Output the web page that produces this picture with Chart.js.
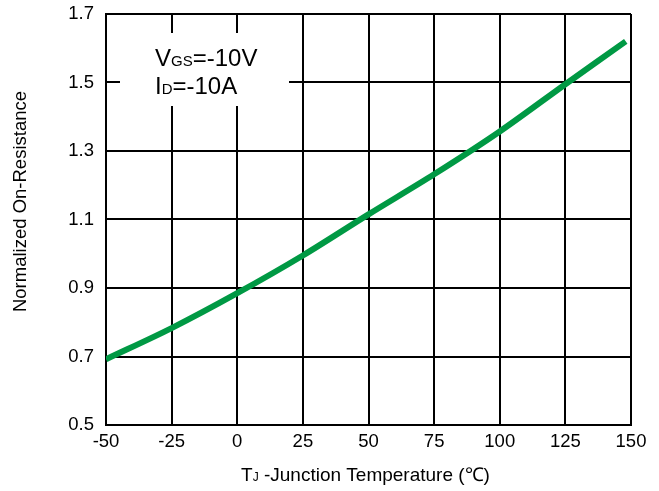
<!DOCTYPE html>
<html><head><meta charset="utf-8">
<script src="https://cdn.jsdelivr.net/npm/chart.js@4/dist/chart.umd.min.js"></script>
<style>html,body{margin:0;padding:0;background:#fff}#wrap{width:659px;height:491px}</style>
</head><body><div id="wrap"><canvas id="c" width="659" height="491"></canvas></div>
<script>
// Data
const temperatures = [-50, -25, 0, 25, 50, 75, 100, 125, 148];
const normalizedRds = [0.692, 0.783, 0.885, 0.995, 1.115, 1.232, 1.357, 1.495, 1.62];
const xTicks = [-50, -25, 0, 25, 50, 75, 100, 125, 150];
const xTickLabels = ['-50', '-25', '0', '25', '50', '75', '100', '125', '150'];
const yTicks = [0.5, 0.7, 0.9, 1.1, 1.3, 1.5, 1.7];
const yTickLabels = ['0.5', '0.7', '0.9', '1.1', '1.3', '1.5', '1.7'];
const annotationLines = [
  [{t: 'V', sub: false}, {t: 'GS', sub: true}, {t: '=-10V', sub: false}],
  [{t: 'I', sub: false}, {t: 'D', sub: true}, {t: '=-10A', sub: false}]
];
const xTitleParts = [{t: 'T', sub: false}, {t: 'J', sub: true}, {t: ' -Junction Temperature (\u2103)', sub: false}];
const yTitle = 'Normalized On-Resistance';

const FONT = '"Liberation Sans", Arial, sans-serif';

function drawParts(ctx, parts, x, y, size, subSize, align) {
  const w = parts.map(p => { ctx.font = (p.sub ? subSize : size) + 'px ' + FONT; return ctx.measureText(p.t).width; });
  const total = w.reduce((a, b) => a + b, 0);
  let cx = align === 'center' ? x - total / 2 : x;
  parts.forEach((p, i) => {
    ctx.font = (p.sub ? subSize : size) + 'px ' + FONT;
    ctx.fillText(p.t, cx, y);
    cx += w[i];
  });
}

const decor = {
  id: 'decor',
  beforeDatasetsDraw(chart) {
    const {ctx, chartArea: a} = chart;
    ctx.save();
    ctx.fillStyle = '#fff';
    ctx.fillRect(a.left + 14, a.top + 19, 169, 73);
    ctx.fillStyle = '#000';
    ctx.textBaseline = 'alphabetic';
    ctx.textAlign = 'left';
    drawParts(ctx, annotationLines[0], a.left + 49, a.top + 52, 24, 15, 'left');
    drawParts(ctx, annotationLines[1], a.left + 49, a.top + 80, 24, 15, 'left');
    ctx.restore();
  },
  afterDraw(chart) {
    const {ctx, chartArea: a} = chart;
    ctx.save();
    ctx.fillStyle = '#000';
    ctx.textAlign = 'left';
    ctx.textBaseline = 'alphabetic';
    drawParts(ctx, xTitleParts, (a.left + a.right) / 2 - 3, 481, 19, 12, 'center');
    ctx.translate(21, (a.top + a.bottom) / 2 - 18);
    ctx.rotate(-Math.PI / 2);
    ctx.textAlign = 'center';
    ctx.textBaseline = 'middle';
    ctx.font = '18.5px ' + FONT;
    ctx.fillText(yTitle, 0, 0);
    ctx.restore();
  }
};

new Chart(document.getElementById('c'), {
  type: 'line',
  data: {
    datasets: [{
      data: temperatures.map((t, i) => ({x: t, y: normalizedRds[i]})),
      borderColor: '#009944',
      borderWidth: 6,
      pointRadius: 0,
      tension: 0.3,
      fill: false
    }]
  },
  options: {
    responsive: false,
    animation: false,
    layout: {padding: {top: 14, right: 28, left: 0, bottom: 0}},
    plugins: {legend: {display: false}, tooltip: {enabled: false}},
    scales: {
      x: {
        type: 'linear', min: -50, max: 150,
        afterBuildTicks: s => { s.ticks = xTicks.map(v => ({value: v})); },
        afterFit: s => { s.height = 66; s.paddingLeft = 0; s.paddingRight = 0; },
        grid: {color: '#000', lineWidth: 2, drawTicks: false},
        border: {color: '#000', width: 2},
        ticks: {color: '#000', padding: 6, font: {family: FONT, size: 18.5}, maxRotation: 0,
          callback: (v, i) => xTickLabels[i]}
      },
      y: {
        type: 'linear', min: 0.5, max: 1.7,
        afterBuildTicks: s => { s.ticks = yTicks.map(v => ({value: v})); },
        afterFit: s => { s.width = 106; s.paddingTop = 0; s.paddingBottom = 0; },
        grid: {color: '#000', lineWidth: 2, drawTicks: false},
        border: {color: '#000', width: 2},
        ticks: {color: '#000', padding: 12, font: {family: FONT, size: 18.5},
          callback: (v, i) => yTickLabels[i]}
      }
    }
  },
  plugins: [decor]
});
</script>
</body></html>
